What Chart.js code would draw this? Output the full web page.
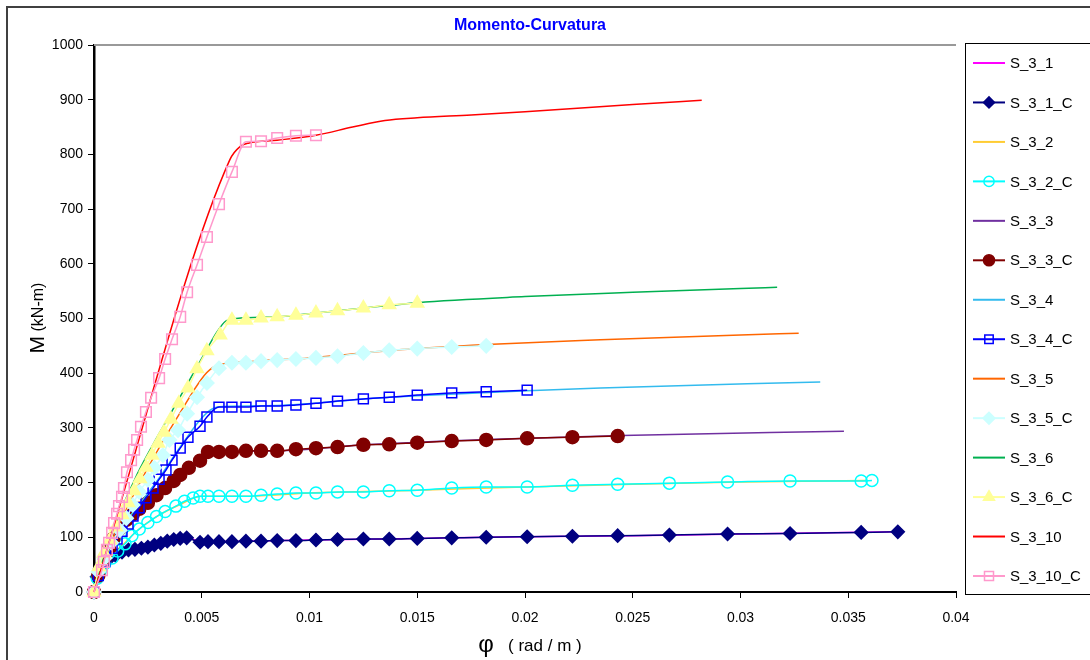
<!DOCTYPE html>
<html>
<head>
<meta charset="utf-8">
<title>Momento-Curvatura</title>
<script src="https://cdn.jsdelivr.net/npm/chart.js@4.4.1/dist/chart.umd.min.js"></script>
<style>
  body { margin: 0; background: #fff; }
  #wrap { width: 1090px; height: 660px; }
</style>
</head>
<body>
<div id="wrap"><canvas id="grafico" width="1090" height="660"></canvas></div>
<script>
// Eixos
const xTicks = [0, 0.005, 0.01, 0.015, 0.02, 0.025, 0.03, 0.035, 0.04];
const yTicks = [0, 100, 200, 300, 400, 500, 600, 700, 800, 900, 1000];

// Series (curvatura phi em rad/m, momento M em kN-m)
const s31X = [0, 0.0005, 0.001, 0.002, 0.003, 0.004, 0.0044, 0.0049, 0.007, 0.01, 0.015, 0.02, 0.025, 0.03, 0.0373];
const s31Y = [0, 55, 68, 80, 88, 98, 99, 92, 93, 95, 98, 101, 103, 106, 110];

const s31cX = [0, 0.00014, 0.00028, 0.00046, 0.00065, 0.001, 0.0013, 0.0016, 0.0019, 0.0022, 0.0025, 0.0028, 0.0031, 0.0034, 0.0037, 0.004, 0.0043, 0.00492, 0.00529, 0.0058, 0.0064, 0.00705, 0.00775, 0.0085, 0.00937, 0.0103, 0.0113, 0.0125, 0.0137, 0.015, 0.0166, 0.0182, 0.0201, 0.0222, 0.0243, 0.0267, 0.0294, 0.0323, 0.0356, 0.0373];
const s31cY = [0, 28, 42, 52, 59, 67, 73, 77, 78, 80, 82, 86, 89, 93, 96, 98, 99, 91, 92, 92, 92, 93, 93, 94, 94, 95, 96, 97, 97, 98, 99, 100, 101, 102, 103, 104, 106, 107, 109, 110];

const s32X = [0, 0.0005, 0.001, 0.002, 0.003, 0.004, 0.005, 0.007, 0.01, 0.015, 0.02, 0.025, 0.03, 0.0358];
const s32Y = [0, 52, 72, 112, 140, 160, 175, 175, 181, 186, 192, 197, 201, 204];

const s32cX = [0, 0.00015, 0.0003, 0.0005, 0.00084, 0.0011, 0.00144, 0.00176, 0.0021, 0.0025, 0.0029, 0.0033, 0.0038, 0.0042, 0.0046, 0.00492, 0.00529, 0.0058, 0.0064, 0.00705, 0.00775, 0.0085, 0.00937, 0.0103, 0.0113, 0.0125, 0.0137, 0.015, 0.0166, 0.0182, 0.0201, 0.0222, 0.0243, 0.0267, 0.0294, 0.0323, 0.0356, 0.0361];
const s32cY = [0, 25, 40, 52, 62, 75, 88, 103, 115, 127, 138, 147, 157, 166, 172, 175, 175, 175, 175, 175, 177, 179, 181, 181, 183, 183, 185, 186, 190, 192, 192, 195, 197, 199, 201, 203, 203, 204];

const s33X = [0, 0.0005, 0.001, 0.002, 0.003, 0.004, 0.0049, 0.0053, 0.0085, 0.0125, 0.0182, 0.0245, 0.0348];
const s33Y = [0, 62, 100, 150, 182, 214, 240, 256, 258, 269, 279, 286, 294];

const s33cX = [0, 0.0002, 0.0005, 0.0007, 0.0009, 0.0012, 0.0015, 0.0018, 0.0021, 0.0025, 0.0029, 0.0033, 0.0037, 0.004, 0.0044, 0.00492, 0.00529, 0.0058, 0.0064, 0.00705, 0.00775, 0.0085, 0.00937, 0.0103, 0.0113, 0.0125, 0.0137, 0.015, 0.0166, 0.0182, 0.0201, 0.0222, 0.0243];
const s33cY = [0, 30, 62, 80, 98, 116, 132, 142, 152, 163, 177, 190, 203, 214, 227, 240, 256, 256, 256, 258, 258, 258, 261, 263, 265, 269, 270, 273, 276, 278, 281, 283, 285];

const s34X = [0, 0.001, 0.002, 0.003, 0.004, 0.005, 0.0055, 0.006, 0.0085, 0.0103, 0.0125, 0.015, 0.0201, 0.0235, 0.0337];
const s34Y = [0, 100, 155, 207, 265, 318, 335, 339, 341, 345, 353, 359, 368, 373, 384];

const s34cX = [0, 0.0002, 0.0005, 0.00084, 0.00107, 0.0013, 0.00158, 0.00181, 0.00209, 0.00241, 0.00274, 0.00302, 0.00334, 0.00362, 0.004, 0.00436, 0.00492, 0.00524, 0.0058, 0.0064, 0.00705, 0.00775, 0.0085, 0.00937, 0.0103, 0.0113, 0.0125, 0.0137, 0.015, 0.0166, 0.0182, 0.0201];
const s34cY = [0, 30, 55, 80, 97, 111, 124, 139, 154, 172, 190, 206, 223, 241, 263, 283, 303, 320, 338, 338, 338, 340, 340, 342, 345, 349, 353, 356, 360, 364, 366, 369];

const s35X = [0, 0.001, 0.002, 0.003, 0.004, 0.005, 0.0055, 0.006, 0.0075, 0.01, 0.0125, 0.015, 0.0185, 0.0235, 0.03, 0.0327];
const s35Y = [0, 110, 190, 262, 328, 390, 410, 417, 422, 428, 437, 445, 453, 461, 470, 473];

const s35cX = [0, 0.0002, 0.0005, 0.0008, 0.0012, 0.0015, 0.0018, 0.0021, 0.0025, 0.0028, 0.0032, 0.0035, 0.0039, 0.00432, 0.00478, 0.00524, 0.0058, 0.0064, 0.00705, 0.00775, 0.0085, 0.00937, 0.0103, 0.0113, 0.0125, 0.0137, 0.015, 0.0166, 0.0182];
const s35cY = [0, 37, 62, 90, 113, 135, 159, 183, 205, 227, 250, 278, 296, 326, 356, 382, 409, 419, 419, 422, 424, 426, 428, 431, 437, 442, 445, 448, 450];

const s36X = [0, 0.0005, 0.001, 0.002, 0.003, 0.004, 0.005, 0.0057, 0.0061, 0.0066, 0.0085, 0.0103, 0.0125, 0.015, 0.02, 0.025, 0.03, 0.0317];
const s36Y = [0, 70, 125, 215, 288, 357, 427, 475, 495, 500, 503, 510, 519, 529, 540, 548, 555, 557];

const s36cX = [0, 0.00023, 0.00046, 0.00074, 0.00102, 0.0013, 0.00158, 0.00186, 0.00213, 0.00241, 0.00269, 0.00297, 0.00325, 0.00357, 0.00394, 0.00436, 0.00478, 0.00524, 0.00585, 0.0064, 0.00705, 0.00775, 0.0085, 0.00937, 0.0103, 0.0113, 0.0125, 0.0137, 0.015];
const s36cY = [0, 46, 71, 95, 119, 141, 163, 185, 207, 228, 250, 272, 292, 316, 345, 373, 408, 441, 470, 497, 497, 501, 503, 506, 510, 514, 519, 525, 528];

const s310X = [0, 0.0063, 0.0068, 0.0072, 0.0085, 0.0103, 0.012, 0.0135, 0.015, 0.0175, 0.02, 0.025, 0.0282];
const s310Y = [0, 790, 815, 821, 826, 835, 850, 862, 867, 872, 878, 891, 899];

const s310cX = [0, 0.00037, 0.00046, 0.0006, 0.0007, 0.00084, 0.00093, 0.00107, 0.00116, 0.0013, 0.00139, 0.00153, 0.00172, 0.00186, 0.002, 0.00218, 0.00241, 0.00265, 0.00302, 0.0033, 0.00362, 0.004, 0.00432, 0.00478, 0.00524, 0.0058, 0.0064, 0.00705, 0.00775, 0.0085, 0.00937, 0.0103];
const s310cY = [0, 40, 55, 77, 90, 108, 126, 143, 157, 174, 190, 219, 241, 260, 278, 302, 329, 355, 391, 426, 462, 503, 548, 598, 649, 709, 768, 823, 824, 830, 834, 835];

// junta x e y em pontos
function pontos(xs, ys) {
    return xs.map((x, i) => ({ x: x, y: ys[i] }));
}

// linha simples sem marcador
function linha(label, xs, ys, cor) {
    return {
        label: label,
        data: pontos(xs, ys),
        borderColor: cor,
        backgroundColor: cor,
        borderWidth: 1.5,
        pointRadius: 0,
        pointStyle: false,
        cubicInterpolationMode: 'monotone',
        clip: false
    };
}

// linha com marcador
function marcada(label, xs, ys, cor, estilo, raio, preenchimento) {
    return {
        label: label,
        data: pontos(xs, ys),
        borderColor: cor,
        backgroundColor: cor,
        borderWidth: 1.5,
        pointStyle: estilo,
        pointRadius: raio,
        pointBorderColor: cor,
        pointBackgroundColor: preenchimento,
        pointBorderWidth: 1.5,
        cubicInterpolationMode: 'monotone',
        clip: false
    };
}

const datasets = [
    linha('S_3_1', s31X, s31Y, '#FF00FF'),
    marcada('S_3_1_C', s31cX, s31cY, '#000080', 'rectRot', 6.5, '#000080'),
    linha('S_3_2', s32X, s32Y, '#FFCC33'),
    marcada('S_3_2_C', s32cX, s32cY, '#00FFFF', 'circle', 6, 'rgba(0,0,0,0)'),
    linha('S_3_3', s33X, s33Y, '#7030A0'),
    marcada('S_3_3_C', s33cX, s33cY, '#800000', 'circle', 6.5, '#800000'),
    linha('S_3_4', s34X, s34Y, '#33BBEE'),
    marcada('S_3_4_C', s34cX, s34cY, '#0000FF', 'rect', 7, 'rgba(0,0,0,0)'),
    linha('S_3_5', s35X, s35Y, '#FF6600'),
    marcada('S_3_5_C', s35cX, s35cY, '#CCFFFF', 'rectRot', 7, '#CCFFFF'),
    linha('S_3_6', s36X, s36Y, '#00B050'),
    marcada('S_3_6_C', s36cX, s36cY, '#FFFF99', 'triangle', 7.5, '#FFFF99'),
    linha('S_3_10', s310X, s310Y, '#FF0000'),
    marcada('S_3_10_C', s310cX, s310cY, '#FF99CC', 'rect', 7.5, 'rgba(0,0,0,0)')
];

// ordem de desenho como no Excel: a ultima serie fica por cima
datasets.forEach((d, i) => { d.order = datasets.length - i; });

const fonte = '"Liberation Sans", Arial, sans-serif';

// Molduras, titulos e legenda desenhados a mao
const decoracao = {
    id: 'decoracao',
    beforeDraw(chart) {
        const ctx = chart.ctx;
        ctx.save();
        ctx.fillStyle = '#fff';
        ctx.fillRect(0, 0, 1090, 660);
        ctx.strokeStyle = '#404040';
        ctx.lineWidth = 2;
        ctx.strokeRect(7, 7, 1100, 700);
        ctx.restore();
    },
    beforeDatasetsDraw(chart) {
        const ctx = chart.ctx;
        const a = chart.chartArea;
        ctx.save();
        ctx.strokeStyle = '#999';
        ctx.lineWidth = 2;
        ctx.beginPath();
        ctx.moveTo(a.left, a.top);
        ctx.lineTo(a.right, a.top);
        ctx.stroke();
        ctx.restore();
    },
    afterDraw(chart) {
        const ctx = chart.ctx;
        ctx.save();

        // titulo
        ctx.fillStyle = '#0000FF';
        ctx.font = 'bold 16px ' + fonte;
        ctx.textAlign = 'center';
        ctx.textBaseline = 'middle';
        ctx.fillText('Momento-Curvatura', 530, 26);

        // titulo eixo y
        ctx.fillStyle = '#000';
        ctx.save();
        ctx.translate(38, 318);
        ctx.rotate(-Math.PI / 2);
        ctx.textAlign = 'left';
        ctx.font = '21px ' + fonte;
        const wM = ctx.measureText('M').width;
        ctx.font = '16px ' + fonte;
        const wR = ctx.measureText(' (kN-m)').width;
        let x0 = -(wM + wR) / 2;
        ctx.font = '21px ' + fonte;
        ctx.fillText('M', x0, 0);
        ctx.font = '16px ' + fonte;
        ctx.fillText(' (kN-m)', x0 + wM, 1);
        ctx.restore();

        // titulo eixo x
        ctx.textAlign = 'left';
        ctx.font = '24px ' + fonte;
        const wPhi = ctx.measureText('φ').width;
        ctx.font = '17px ' + fonte;
        const wU = ctx.measureText('   ( rad / m )').width;
        let xs = 530 - (wPhi + wU) / 2;
        ctx.font = '24px ' + fonte;
        ctx.fillText('φ', xs, 645);
        ctx.font = '17px ' + fonte;
        ctx.fillText('   ( rad / m )', xs + wPhi, 646);

        // legenda
        ctx.strokeStyle = '#000';
        ctx.lineWidth = 1;
        ctx.strokeRect(965.5, 43.5, 130, 551);
        ctx.font = '15px ' + fonte;
        ctx.textBaseline = 'middle';
        chart.data.datasets.forEach((d, i) => {
            const y = 63 + i * 39.46;
            ctx.strokeStyle = d.borderColor;
            ctx.lineWidth = 2;
            ctx.beginPath();
            ctx.moveTo(973, y);
            ctx.lineTo(1005, y);
            ctx.stroke();
            if (d.pointStyle) {
                ctx.fillStyle = d.pointBackgroundColor;
                ctx.strokeStyle = d.pointBorderColor;
                ctx.lineWidth = 1.5;
                Chart.helpers.drawPoint(ctx, {
                    pointStyle: d.pointStyle,
                    radius: d.pointRadius * 0.85,
                    rotation: 0,
                    borderWidth: 1.5
                }, 989, y);
            }
            ctx.fillStyle = '#000';
            ctx.fillText(d.label, 1010, y + 1);
        });

        ctx.restore();
    }
};

const ctx = document.getElementById('grafico');
new Chart(ctx, {
    type: 'line',
    data: { datasets: datasets },
    options: {
        responsive: false,
        animation: false,
        layout: {
            padding: { left: 0, right: 134, top: 45, bottom: 0 }
        },
        plugins: {
            legend: { display: false },
            title: { display: false },
            tooltip: { enabled: false }
        },
        scales: {
            x: {
                type: 'linear',
                min: 0,
                max: 0.04,
                afterBuildTicks: function(scale) {
                    scale.ticks = xTicks.map(v => ({ value: v }));
                },
                afterFit: function(scale) { scale.height = 68; },
                grid: {
                    display: true,
                    drawOnChartArea: false,
                    drawTicks: true,
                    tickLength: 6,
                    tickColor: '#000'
                },
                border: { color: '#000', width: 2 },
                ticks: {
                    color: '#000',
                    padding: 12,
                    maxRotation: 0,
                    font: { size: 14, family: fonte },
                    callback: function(value) { return String(+value.toFixed(3)); }
                }
            },
            y: {
                type: 'linear',
                min: 0,
                max: 1000,
                afterBuildTicks: function(scale) {
                    scale.ticks = yTicks.map(v => ({ value: v }));
                },
                afterFit: function(scale) { scale.width = 94; },
                grid: {
                    display: true,
                    drawOnChartArea: false,
                    drawTicks: true,
                    tickLength: 6,
                    tickColor: '#000'
                },
                border: { color: '#000', width: 2.5 },
                ticks: {
                    color: '#000',
                    padding: 5,
                    font: { size: 14, family: fonte },
                    callback: function(value) { return String(value); }
                }
            }
        }
    },
    plugins: [decoracao]
});
</script>
</body>
</html>
